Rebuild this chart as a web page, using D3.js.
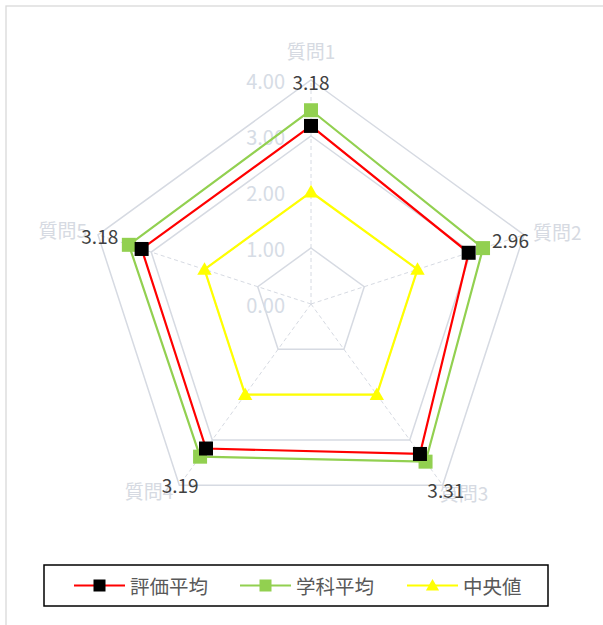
<!DOCTYPE html>
<html lang="ja">
<head>
  <meta charset="UTF-8" />
  <title>Radar Chart</title>
  <script src="https://d3js.org/d3.v7.min.js"></script>
  <style>
    body { margin: 0; background: white; }
    svg { display: block; font-family: "Noto Sans CJK JP", "Noto Sans", sans-serif; }
  </style>
</head>
<body>
  <svg width="603" height="625"></svg>
  <script>
    // data
    const categories = ["質問1", "質問2", "質問3", "質問4", "質問5"];
    const evalAvg = [3.18, 2.96, 3.31, 3.19, 3.18];
    const deptAvg = [3.46, 3.23, 3.48, 3.37, 3.42];
    const median = [2.0, 2.0, 2.0, 2.0, 2.0];
    const ticks = [0, 1, 2, 3, 4];

    const series = [
      { name: "評価平均", values: evalAvg, color: "#ff0000", marker: "square", fill: "#000000", size: 14 },
      { name: "学科平均", values: deptAvg, color: "#92d050", marker: "square", fill: "#92d050", size: 14 },
      { name: "中央値", values: median, color: "#ffff00", marker: "triangle", fill: "#ffff00", size: 12 }
    ];

    const svg = d3.select("svg");
    const cx = 311, cy = 304, radius = 224;

    // chart border
    svg.append("rect")
      .attr("x", 6).attr("y", 6)
      .attr("width", 620).attr("height", 640)
      .attr("fill", "none")
      .attr("stroke", "#d9d9d9")
      .attr("stroke-width", 1.3);

    const r = d3.scaleLinear().domain([0, 4]).range([0, radius]);
    const angle = i => -Math.PI / 2 + i * 2 * Math.PI / categories.length;
    const pt = (i, v) => [cx + r(v) * Math.cos(angle(i)), cy + r(v) * Math.sin(angle(i))];

    const g = svg.append("g");

    // grid rings
    g.selectAll(".ring")
      .data(ticks.filter(t => t > 0))
      .enter()
      .append("polygon")
      .attr("points", t => categories.map((c, i) => pt(i, t).join(",")).join(" "))
      .attr("fill", "none")
      .attr("stroke", "#d6dae2")
      .attr("stroke-width", 1.5);

    // spokes
    g.selectAll(".spoke")
      .data(categories)
      .enter()
      .append("line")
      .attr("x1", cx).attr("y1", cy)
      .attr("x2", (d, i) => pt(i, 4)[0])
      .attr("y2", (d, i) => pt(i, 4)[1])
      .attr("stroke", "#d6dae2")
      .attr("stroke-width", 1)
      .attr("stroke-dasharray", "4,3");

    // tick labels
    g.selectAll(".tick")
      .data(ticks)
      .enter()
      .append("text")
      .attr("x", cx - 26)
      .attr("y", t => cy - r(t))
      .attr("text-anchor", "end")
      .attr("dominant-baseline", "central")
      .attr("font-size", 20)
      .attr("fill", "#d6dce5")
      .text(t => d3.format(".2f")(t));

    // category labels, placed next to the outer ring's corners
    const catAnchor = ["middle", "start", "start", "end", "end"];
    const catShift = [[0, -30], [9, -3], [-3, 7], [-6, 5], [-11, -5]];
    g.selectAll(".cat")
      .data(categories)
      .enter()
      .append("text")
      .attr("x", (d, i) => pt(i, 4)[0] + catShift[i][0])
      .attr("y", (d, i) => pt(i, 4)[1] + catShift[i][1])
      .attr("text-anchor", (d, i) => catAnchor[i])
      .attr("dominant-baseline", "central")
      .attr("font-size", 19)
      .attr("fill", "#d6dae2")
      .text(d => d);

    const line = d3.line().curve(d3.curveLinearClosed);

    const drawMarker = (sel, s, x, y) => {
      if (s.marker === "square") {
        sel.append("rect")
          .attr("x", x - s.size / 2).attr("y", y - s.size / 2)
          .attr("width", s.size).attr("height", s.size)
          .attr("fill", s.fill);
      } else {
        const h = s.size;
        sel.append("path")
          .attr("d", `M${x},${y - h * 0.6}L${x + h * 0.6},${y + h * 0.45}L${x - h * 0.6},${y + h * 0.45}Z`)
          .attr("fill", s.fill);
      }
    };

    // series, drawn back to front
    [series[2], series[1], series[0]].forEach(s => {
      const pts = s.values.map((v, i) => pt(i, v));
      g.append("path")
        .attr("d", line(pts))
        .attr("fill", "none")
        .attr("stroke", s.color)
        .attr("stroke-width", 2.2);
    });
    [series[2], series[1], series[0]].forEach(s => {
      s.values.forEach((v, i) => {
        const [x, y] = pt(i, v);
        drawMarker(g, s, x, y);
      });
    });

    // data labels for 評価平均
    g.selectAll(".dlabel")
      .data(evalAvg)
      .enter()
      .append("text")
      .attr("x", (v, i) => cx + (r(v) + 44) * Math.cos(angle(i)))
      .attr("y", (v, i) => cy + (r(v) + 44) * Math.sin(angle(i)))
      .attr("text-anchor", "middle")
      .attr("dominant-baseline", "central")
      .attr("font-size", 19)
      .attr("fill", "#404040")
      .text(v => d3.format(".2f")(v));

    // legend
    const legend = svg.append("g").attr("transform", "translate(44,565)");
    legend.append("rect")
      .attr("width", 504).attr("height", 41)
      .attr("fill", "white")
      .attr("stroke", "#000")
      .attr("stroke-width", 1.5);

    const legendX = [30, 196, 363];
    series.forEach((s, i) => {
      const item = legend.append("g").attr("transform", `translate(${legendX[i]},20.5)`);
      item.append("line")
        .attr("x1", 0).attr("x2", 51)
        .attr("y1", 0).attr("y2", 0)
        .attr("stroke", s.color)
        .attr("stroke-width", 2.2);
      drawMarker(item, { ...s, size: s.marker === "square" ? 12 : 11 }, 25.5, 0);
      item.append("text")
        .attr("x", 56)
        .attr("y", 0)
        .attr("dominant-baseline", "central")
        .attr("font-size", 19.5)
        .attr("fill", "#595959")
        .text(s.name);
    });
  </script>
</body>
</html>
